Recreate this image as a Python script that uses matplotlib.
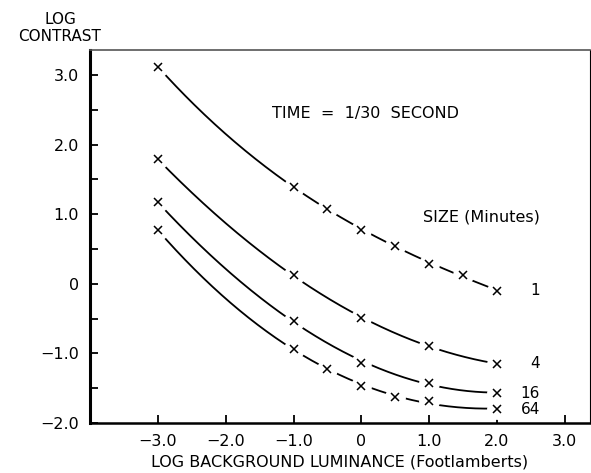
import numpy as np
import matplotlib
matplotlib.use('Agg')
import matplotlib.pyplot as plt

plt.rcParams['font.family'] = ['DejaVu Sans']
plt.rcParams['font.size'] = 11

# values (log luminance, log contrast)
sizes = ['1', '4', '16', '64']
x_1 = [-3.0, -1.0, -0.5, 0.0, 0.5, 1.0, 1.5, 2.0]
y_1 = [3.12, 1.39, 1.08, 0.77, 0.55, 0.29, 0.12, -0.10]
x_4 = [-3.0, -1.0, 0.0, 1.0, 2.0]
y_4 = [1.79, 0.12, -0.49, -0.89, -1.15]
x_16 = [-3.0, -1.0, 0.0, 1.0, 2.0]
y_16 = [1.17, -0.53, -1.14, -1.42, -1.57]
x_64 = [-3.0, -1.0, -0.5, 0.0, 0.5, 1.0, 2.0]
y_64 = [0.77, -0.93, -1.22, -1.47, -1.63, -1.68, -1.80]

series = [(x_1, y_1), (x_4, y_4), (x_16, y_16), (x_64, y_64)]

fig = plt.figure(figsize=(5.91, 4.73), dpi=100)
ax = fig.add_axes([90/591, 1 - 423/473, 500/591, 373/473])

for (xs, ys), lab in zip(series, sizes):
    xs = np.array(xs)
    ys = np.array(ys)
    # smooth line through the read points, drawing only
    c = np.polyfit(xs, ys, 3)
    xx = np.linspace(xs[0], xs[-1], 300)
    ax.plot(xx, np.polyval(c, xx), color='black', lw=1.3, zorder=2)
    # white halo so the line stops short of each mark
    ax.plot(xs, ys, 'o', ms=15, mfc='white', mec='none', zorder=3)
    ax.plot(xs, ys, 'x', ms=5.5, mew=1.1, color='black', zorder=4)
    ax.text(2.63, ys[-1], lab, ha='right', va='center', fontsize=11)

ax.text(-1.32, 2.45, 'TIME  =  1/30  SECOND', ha='left', va='center', fontsize=11.5)
ax.text(2.63, 0.96, 'SIZE (Minutes)', ha='right', va='center', fontsize=11.5)

ax.set_xlim(-4, 3.37)
ax.set_ylim(-2, 3.36)
ax.set_xticks([-3, -2, -1, 0, 1, 2, 3])
ax.set_xticklabels(['\u22123.0', '\u22122.0', '\u22121.0', '0', '1.0', '2.0', '3.0'])
ax.set_yticks([-2, -1, 0, 1, 2, 3])
ax.set_yticklabels(['\u22122.0', '\u22121.0', '0', '1.0', '2.0', '3.0'])
ax.set_yticks(np.arange(-1.5, 3.0, 1.0), minor=True)
ax.tick_params(axis='both', which='both', direction='in', length=6, width=1.3, labelsize=11.5)
ax.tick_params(axis='y', pad=8)
ax.tick_params(axis='x', pad=8)

ax.spines['left'].set_linewidth(2.2)
ax.spines['bottom'].set_linewidth(1.8)
ax.spines['top'].set_linewidth(1.2)
ax.spines['top'].set_color('#555555')
ax.spines['right'].set_linewidth(0.8)

ax.set_xlabel('LOG BACKGROUND LUMINANCE (Footlamberts)', fontsize=11.5, labelpad=4)
fig.text(60/591, 1 - 28/473, 'LOG\nCONTRAST', ha='center', va='center', fontsize=11, linespacing=1.2)

fig.savefig('out.png', dpi=100)
